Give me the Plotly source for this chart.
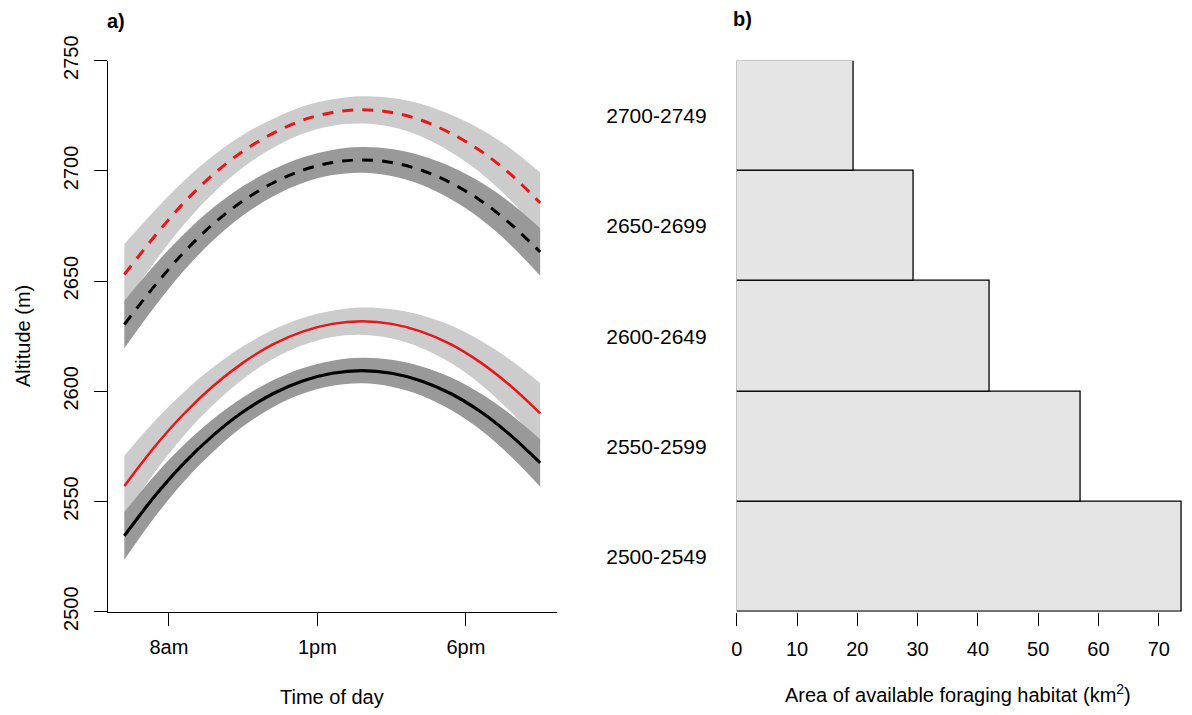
import plotly.graph_objects as go

# ---------------- data ----------------
hours = [6.5, 7.5, 8.5, 9.5, 10.5, 11.5, 12.5, 13.5, 14.5, 15.5, 16.5, 17.5, 18.5, 19.5, 20.5]

red_dashed   = [2653, 2670, 2685.5, 2698.5, 2709, 2717, 2723, 2726.5, 2727.7, 2726.5, 2723, 2717, 2709, 2698.5, 2685.5]
black_dashed = [2630.3, 2647.5, 2663, 2676, 2686.5, 2694.5, 2700.3, 2703.8, 2705, 2703.8, 2700.3, 2694.5, 2686.5, 2676, 2663.2]
red_solid    = [2557, 2574.5, 2589.7, 2602.5, 2613, 2621.3, 2627.1, 2630.6, 2631.8, 2630.6, 2627.1, 2621.3, 2613, 2602.5, 2590]
black_solid  = [2534.4, 2552, 2567.3, 2580.1, 2590.7, 2598.9, 2604.7, 2608.2, 2609.4, 2608.2, 2604.7, 2598.9, 2590.7, 2580.1, 2567.5]

# confidence-band half widths (m)
light_halfwidth = [13.8, 11.7, 9.9, 8.5, 7.4, 6.6, 6.2, 6.0, 6.2, 6.6, 7.4, 8.5, 9.9, 11.7, 13.8]
dark_halfwidth  = [10.8, 9.5, 8.3, 7.4, 6.6, 6.1, 5.8, 5.7, 5.8, 6.1, 6.6, 7.4, 8.3, 9.5, 10.8]

time_tickvals = [8, 13, 18]
time_ticktext = ["8am", "1pm", "6pm"]
alt_tickvals = [2500, 2550, 2600, 2650, 2700, 2750]

altitude_bands = ["2500-2549", "2550-2599", "2600-2649", "2650-2699", "2700-2749"]
habitat_area = [73.8, 57.0, 42.0, 29.3, 19.4]
area_tickvals = [0, 10, 20, 30, 40, 50, 60, 70]

# ---------------- styling ----------------
W, H = 1192, 715
FONT = "Liberation Sans, Arial, Helvetica, sans-serif"
LIGHT = "#cccccc"
DARK = "#999999"
RED = "#e8161a"


def px_x(p):
    return p / W


def px_y(p):
    return 1 - p / H


fig = go.Figure()


def band(y, hw, color):
    upper = [a + b for a, b in zip(y, hw)]
    lower = [a - b for a, b in zip(y, hw)]
    fig.add_trace(go.Scatter(x=hours, y=lower, mode="lines",
                             line=dict(width=0, color=color, shape="spline"),
                             hoverinfo="skip", showlegend=False,
                             xaxis="x", yaxis="y"))
    fig.add_trace(go.Scatter(x=hours, y=upper, mode="lines", fill="tonexty",
                             fillcolor=color,
                             line=dict(width=0, color=color, shape="spline"),
                             hoverinfo="skip", showlegend=False,
                             xaxis="x", yaxis="y"))


band(red_dashed, light_halfwidth, LIGHT)
band(red_solid, light_halfwidth, LIGHT)
band(black_dashed, dark_halfwidth, DARK)
band(black_solid, dark_halfwidth, DARK)

for y, col, dash, w in [(red_dashed, RED, "11px,9px", 3),
                        (black_dashed, "black", "11px,9px", 3),
                        (red_solid, RED, "solid", 2.5),
                        (black_solid, "black", "solid", 3.2)]:
    fig.add_trace(go.Scatter(x=hours, y=y, mode="lines",
                             line=dict(color=col, width=w, dash=dash, shape="spline"),
                             showlegend=False, xaxis="x", yaxis="y"))

fig.add_trace(go.Bar(x=habitat_area, y=altitude_bands, orientation="h",
                     marker=dict(color="#e5e5e5", line=dict(color="black", width=1.3)),
                     showlegend=False, xaxis="x2", yaxis="y2"))

ydom = [px_y(611.7), px_y(60.7)]

fig.update_layout(
    width=W, height=H,
    margin=dict(l=0, r=0, t=0, b=0, pad=0, autoexpand=False),
    paper_bgcolor="white", plot_bgcolor="white",
    font=dict(family=FONT, size=20, color="black"),
    bargap=0,
    xaxis=dict(domain=[px_x(107.7), px_x(556.8)], range=[5.94, 21.06],
               tickvals=time_tickvals, ticktext=time_ticktext,
               ticks="outside", ticklen=13, tickwidth=1.3, tickcolor="black",
               showline=True, linecolor="black", linewidth=1.3, automargin=False,
               showgrid=False, zeroline=False, ticklabelstandoff=4),
    yaxis=dict(domain=ydom, range=[2500, 2750], tickvals=alt_tickvals,
               ticks="outside", ticklen=13, tickwidth=1.3, tickcolor="black",
               tickangle=-90, showline=True, linecolor="black", linewidth=1.3,
               automargin=False,
               showgrid=False, zeroline=False, ticklabelstandoff=8),
    xaxis2=dict(domain=[px_x(736.7), px_x(1182.9)], range=[0, 74], anchor="y2",
                tickvals=area_tickvals, ticks="outside", ticklen=13, tickwidth=1.3,
                tickcolor="black", showline=False, showgrid=False, zeroline=False,
                automargin=False, ticklabelstandoff=6),
    yaxis2=dict(domain=ydom, range=[-0.5, 4.5], anchor="x2",
                categoryorder="array", categoryarray=altitude_bands,
                ticks="", showline=False, showgrid=False, zeroline=False,
                tickfont=dict(size=21),
                automargin=False, ticklabelstandoff=29),
)

annos = [
    dict(text="Time of day", x=px_x(332), y=px_y(697), textangle=0),
    dict(text="Altitude (m)", x=px_x(23), y=px_y(336), textangle=-90),
    dict(text="Area of available foraging habitat (km<sup>2</sup>)", x=px_x(958), y=px_y(693), textangle=0),
    dict(text="<b>a)</b>", x=px_x(116), y=px_y(21), textangle=0),
    dict(text="<b>b)</b>", x=px_x(742), y=px_y(19), textangle=0),
]
for a in annos:
    fig.add_annotation(xref="paper", yref="paper", showarrow=False,
                       xanchor="center", yanchor="middle",
                       font=dict(family=FONT, size=20, color="black"), **a)

fig.write_html("out.html", config={"displayModeBar": False},
               post_script="document.body.style.margin='0px';document.body.style.padding='0px';")
